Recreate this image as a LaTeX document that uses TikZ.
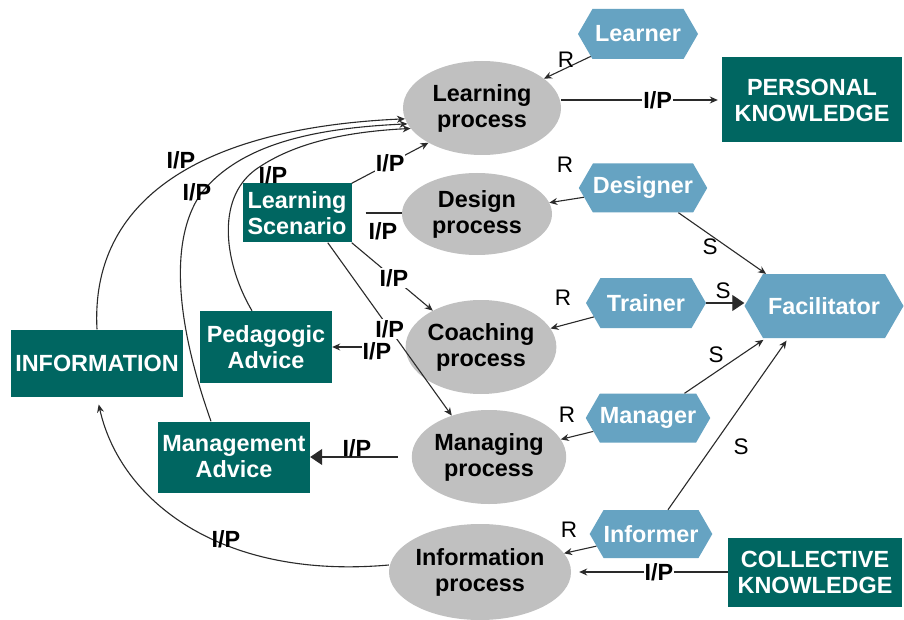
\documentclass[tikz,border=0pt]{standalone}
\usepackage{fontspec}
\setmainfont{Liberation Sans}
\usetikzlibrary{shapes.geometric,shapes.symbols,arrows.meta}
\definecolor{tealbox}{HTML}{006661}
\definecolor{hexblue}{HTML}{66A3C2}
\definecolor{procgray}{HTML}{C0C0C0}
\definecolor{linegray}{HTML}{2A2A2A}
\newcommand{\bigfont}{\fontsize{23.4}{26}\selectfont\bfseries}
\begin{document}
\begin{tikzpicture}[x=1pt,y=-1pt,
  proc/.style={ellipse, fill=procgray, inner sep=0pt, font=\bigfont, align=center, text=black},
  store/.style={rectangle, fill=tealbox, inner sep=0pt, text=white, font=\bigfont, align=center},
  role/.style={signal, signal to=east and west, signal pointer angle=120, fill=hexblue, text=white, font=\bigfont, inner sep=0pt},
  arr/.style={draw=linegray, line width=1.1pt, -{Stealth[length=8pt,width=7pt]}},
  bigarr/.style={draw=linegray, line width=1.1pt, -{Triangle[length=12pt,width=16pt]}},
  plain/.style={draw=linegray, line width=1.1pt},
  lab/.style={font=\bigfont, inner sep=1pt},
  wlab/.style={font=\bigfont, inner sep=1pt, fill=white},
  rlab/.style={font=\fontsize{22.5}{25}\selectfont, inner sep=0pt}
]
\useasboundingbox[fill=white] (0,0) rectangle (904,620);

% processes
\node[proc, minimum width=158pt, minimum height=94pt] (Learning) at (482,108) {Learning\\process};
\node[proc, minimum width=150pt, minimum height=82pt] (Design) at (477,214) {Design\\process};
\node[proc, minimum width=140pt, minimum height=94pt] (Coaching) at (481,347) {Coaching\\process};
\node[proc, minimum width=140pt, minimum height=94pt] (Managing) at (489,457) {Managing\\process};
\node[proc, minimum width=146pt, minimum height=96pt] (Info) at (480,572) {Information\\process};

% roles
\node[role, minimum width=120pt, minimum height=50pt] (Learner) at (638,34) {Learner};
\node[role, minimum width=120pt, minimum height=49pt] (Designer) at (643,188) {Designer};
\node[role, minimum width=120pt, minimum height=50pt] (Trainer) at (646,303) {Trainer};
\node[role, minimum width=159pt, minimum height=64pt] (Fac) at (824,306) {Facilitator};
\node[role, minimum width=120pt, minimum height=49pt] (Manager) at (648,418) {Manager};
\node[role, minimum width=119pt, minimum height=48pt] (Informer) at (651,534) {Informer};

% stores
\node[store, minimum width=180pt, minimum height=85pt] (PK) at (812,100) {PERSONAL\\KNOWLEDGE};
\node[store, minimum width=174pt, minimum height=69pt] (CK) at (815,572) {COLLECTIVE\\KNOWLEDGE};
\node[store, minimum width=109pt, minimum height=59pt] (LS) at (297,213) {Learning\\Scenario};
\node[store, minimum width=172pt, minimum height=67pt] (INFO) at (97,363) {INFORMATION};
\node[store, minimum width=132pt, minimum height=72pt] (PA) at (266,347) {Pedagogic\\Advice};
\node[store, minimum width=152pt, minimum height=71pt] (MA) at (234,457) {Management\\Advice};

% role -> process
\draw[arr] (Learner) -- (Learning);
\draw[arr] (Designer) -- (Design);
\draw[arr] (Trainer) -- (Coaching);
\draw[arr] (Manager) -- (Managing);
\draw[arr] (Informer) -- (Info);
\node[rlab] (r1) at (566,60) {R};
\node[rlab] (r2) at (565,165) {R};
\node[rlab] (r3) at (563,298) {R};
\node[rlab] (r4) at (567,415) {R};
\node[rlab] (r5) at (569,530) {R};

% role -> facilitator
\draw[arr] (Designer) -- (Fac.151);
\draw[bigarr] (Trainer.east) -- (Trainer.east -| Fac.west);
\draw[arr, shorten >=3pt] (Manager) -- (Fac.209);
\draw[arr, shorten >=3pt] (Informer) -- (Fac.222);
\node[rlab] (s1) at (710,247) {S};
\node[rlab] (s2) at (723,291) {S};
\node[rlab] (s3) at (716,355) {S};
\node[rlab] (s4) at (741,447) {S};

% knowledge flows
\draw[arr, shorten >=4pt] (Learning.east |- PK) -- (PK.west) node[wlab, pos=0.6] (ip1) {I/P};
\draw[arr, shorten >=8pt] (CK.west) -- (CK.west -| Info.east) node[wlab, pos=0.44] (ip2) {I/P};
\draw[bigarr, shorten <=14pt] (Managing.west) -- (Managing.west -| MA.east);
\node[lab] (ip3) at (357,448) {I/P};
\draw[arr, shorten <=20pt] (Coaching.west) -- (Coaching.west -| PA.east);

% learning scenario flows
\draw[arr] (LS.north east) -- (Learning.213) node[wlab, pos=0.5] (ip5) {I/P};
\draw[plain, shorten <=14pt] (LS.east) -- (LS.east -| Design.west);
\node[lab] (ip6) at (383,231) {I/P};
\draw[arr] (LS.south east) -- (Coaching.143) node[wlab, pos=0.52] (ip7) {I/P};
\draw[arr] (LS.-44) -- (Managing.132) node[wlab, pos=0.5] (ip8) {I/P};
\node[wlab] (ip4) at (377,351) {I/P};

% curves to learning process
\draw[arr] (INFO.north) .. controls (90,200) and (200,128) .. (Learning.188);
\draw[arr] ([xshift=-23pt]MA.north) .. controls (175,320) and (170,240) .. (200,195)
   .. controls (240,142) and (320,128) .. (Learning.192);
\draw[arr] ([xshift=-14pt]PA.north) .. controls (225,265) and (215,200) .. (255,170)
   .. controls (290,145) and (340,132) .. (Learning.196);
\node[lab] (ip9) at (181,160) {I/P};
\node[lab] (ip10) at (197,192) {I/P};
\node[lab] (ip11) at (273,175) {I/P};

% information process -> INFORMATION
\draw[arr, shorten >=8pt] ([yshift=7pt]Info.west) .. controls (220,580) and (120,500) .. (INFO.south);
\node[lab] (ip12) at (226,539) {I/P};
\end{tikzpicture}
\end{document}
